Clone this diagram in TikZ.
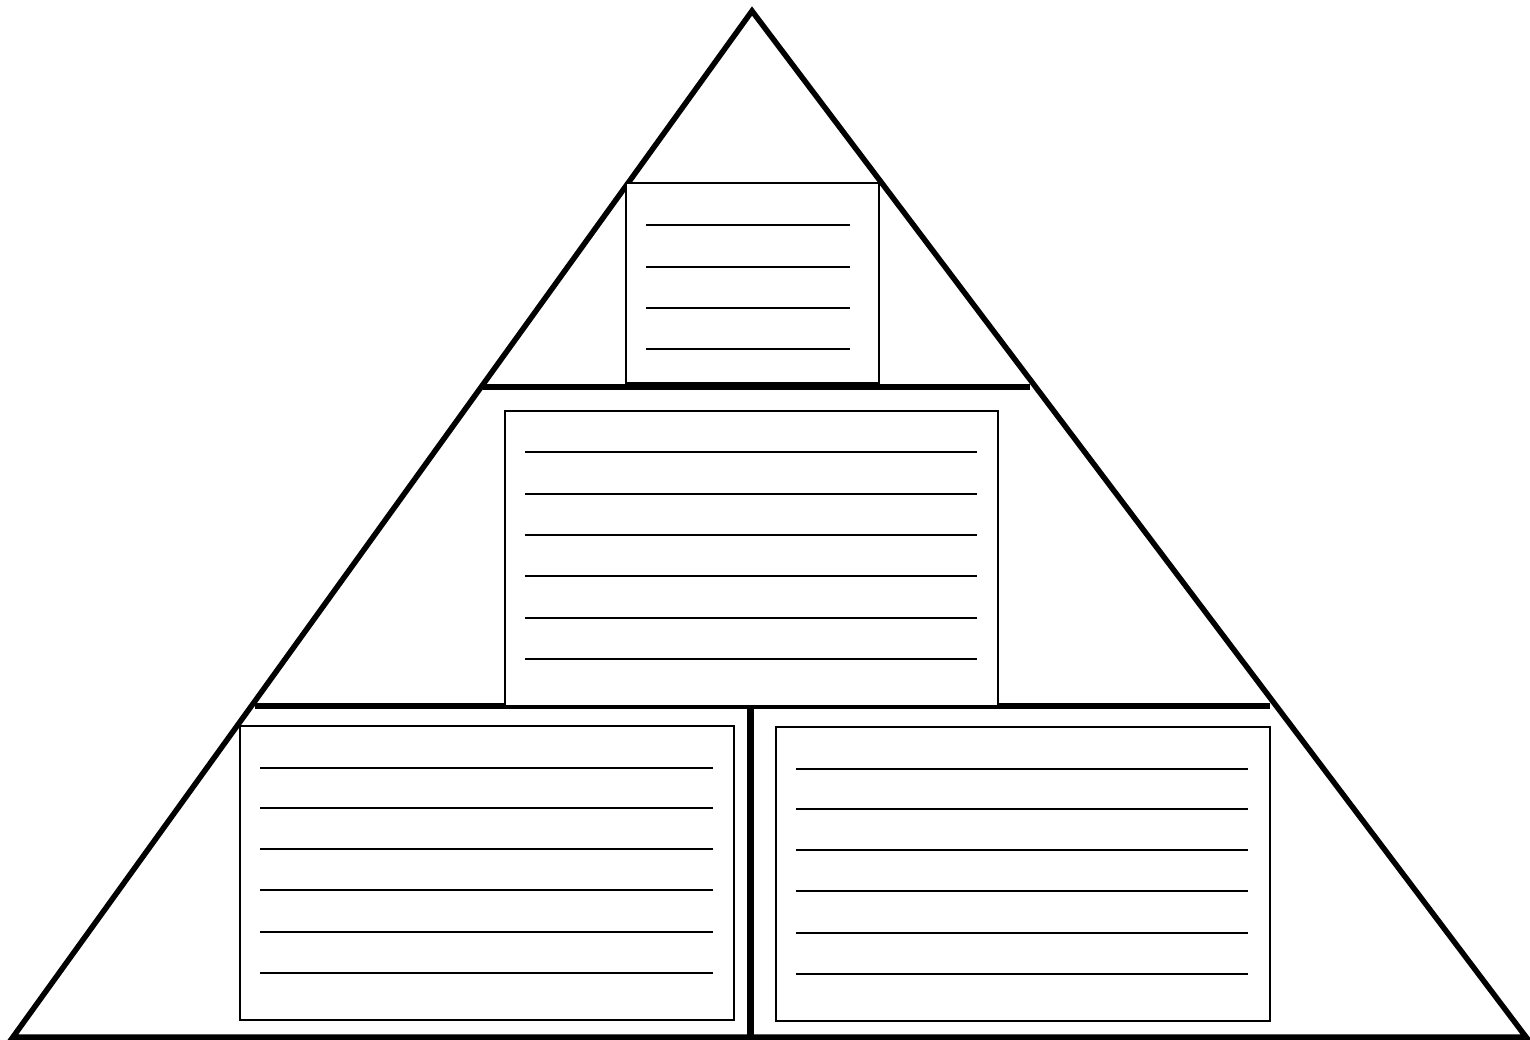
\documentclass[tikz,border=0pt]{standalone}
\begin{document}
\begin{tikzpicture}[x=1pt,y=-1pt,
  outline/.style={line width=5.5pt,line join=miter},
  divider/.style={line width=6pt},
  card/.style={draw,line width=2.4pt,fill=white},
  rule/.style={line width=2pt}]
\useasboundingbox (0,0) rectangle (1530,1040);
% pyramid
\coordinate (apex) at (752,11);
\coordinate (bl) at (13,1037);
\coordinate (br) at (1526,1037);
\draw[outline] (apex) -- (br) -- (bl) -- cycle;
% dividers
\coordinate (d1l) at (483,387); \coordinate (d1r) at (1030,387);
\coordinate (d2l) at (255,706); \coordinate (d2r) at (1270,706);
\coordinate (vt) at (750,706); \coordinate (vb) at (750,1037);
\draw[divider] (d1l) -- (d1r);
\draw[divider] (d2l) -- (d2r);
\draw[line width=7pt] (vt) -- (vb);
% cards
\draw[card] (626,183) rectangle (879,383);
\draw[card] (505,411) rectangle (998,706);
\draw[card] (240,726) rectangle (734,1020);
\draw[card] (776,727) rectangle (1270,1021);
% rules in top card
\foreach \y in {225,267,308,349} \draw[rule] (646,\y) -- (850,\y);
% rules in middle card
\foreach \y in {452,494,535,576,618,659} \draw[rule] (525,\y) -- (977,\y);
% rules in bottom-left card
\foreach \y in {768,808,849,890,932,973} \draw[rule] (260,\y) -- (713,\y);
% rules in bottom-right card
\foreach \y in {769,809,850,891,933,974} \draw[rule] (796,\y) -- (1248,\y);
\end{tikzpicture}
\end{document}
